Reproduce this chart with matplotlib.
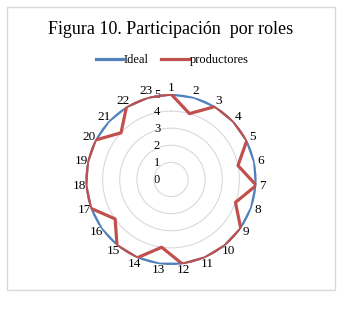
import matplotlib.pyplot as plt
import matplotlib.transforms as mtransforms
import numpy as np

plt.rcParams['font.family'] = ['Liberation Serif', 'DejaVu Serif']

roles = [str(i) for i in range(1, 24)]
ideal = [5] * 23
productores = [5, 4, 5, 5, 5, 4, 5, 4, 5, 5, 5, 5, 4, 5, 5, 4, 5, 5, 5, 5, 4, 5, 5]
r_ticks = [0, 1, 2, 3, 4, 5]

n = len(roles)
ang = np.linspace(0, 2 * np.pi, n, endpoint=False)
ang_c = np.append(ang, ang[0])

fig = plt.figure(figsize=(3.51, 3.18), dpi=100)
# light gray frame around the chart area
fig.patches.append(plt.Rectangle((7 / 351, 1 - 290 / 318), 328 / 351, 283 / 318,
                                 transform=fig.transFigure, fill=False,
                                 edgecolor='#d9d9d9', linewidth=1))

ax = fig.add_axes([0.2436, 0.1667, 0.4872, 0.5377], polar=True)
ax.set_theta_zero_location('N')
ax.set_theta_direction(-1)

ax.plot(ang_c, np.append(ideal, ideal[0]), color='#4F81BD', lw=2.3, label='Ideal', zorder=3)
ax.plot(ang_c, np.append(productores, productores[0]), color='#C0504D', lw=2.3,
        label='productores', zorder=4)

ax.set_ylim(0, 5)
ax.set_yticks(r_ticks)
ax.set_yticklabels([str(v) for v in r_ticks], fontsize=9)
ax.set_rlabel_position(0)
off = mtransforms.ScaledTranslation(-0.14, -0.065, fig.dpi_scale_trans)
for lab in ax.get_yticklabels():
    lab.set_transform(lab.get_transform() + off)
    lab.set_ha('center')

ax.set_xticks(ang)
ax.set_xticklabels(roles, fontsize=9.5)
ax.tick_params(axis='x', pad=-6)
ax.xaxis.grid(False)
ax.yaxis.grid(True, color='#d9d9d9', lw=0.8)
ax.spines['polar'].set_visible(False)

fig.text(0.487, 1 - 30 / 318, 'Figura 10. Participación  por roles', ha='center', va='center',
         fontsize=13)
fig.legend(loc='center', bbox_to_anchor=(0.49, 1 - 60 / 318), ncol=2, frameon=False,
           fontsize=9, handlelength=2.2, handletextpad=0.05, columnspacing=1.0)

fig.savefig('out.png', dpi=100)
